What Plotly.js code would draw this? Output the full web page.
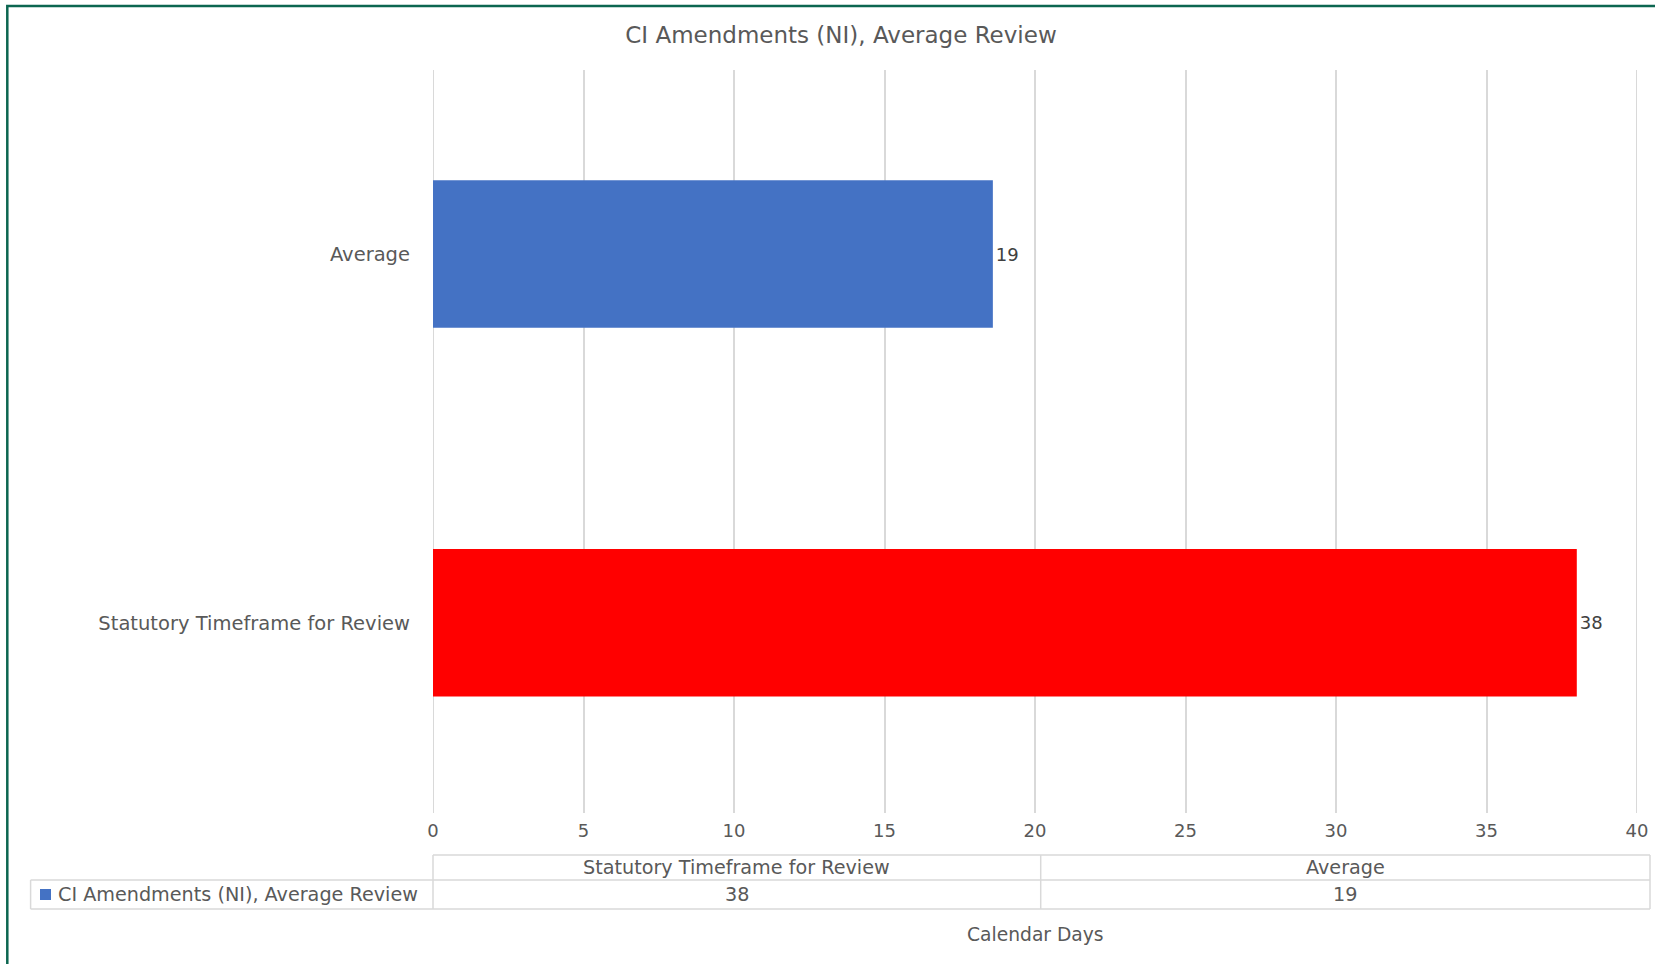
<!DOCTYPE html>
<html>
<head>
<meta charset="utf-8">
<script src="https://cdn.plot.ly/plotly-3.0.1.min.js"></script>
<style>html,body{margin:0;padding:0;background:#fff;}#chart{width:1655px;height:964px;}</style>
</head>
<body>
<div id="chart"></div>
<script>
// ---- data ----
const categories = ["Statutory Timeframe for Review", "Average"];
const values = [38, 18.6];
const barColors = ["#FF0000", "#4472C4"];
const seriesName = "CI Amendments (NI), Average Review";
const chartTitle = "CI Amendments (NI), Average Review";
const xAxisTitle = "Calendar Days";
const xTickVals = [0, 5, 10, 15, 20, 25, 30, 35, 40];

// ---- geometry (pixels) ----
const W = 1655, H = 964;
const L = 433, R = 18, T = 70, B = 151;
const pw = W - L - R, ph = H - T - B;
const px = x => (x - L) / pw;          // pixel x -> paper x
const py = y => (H - B - y) / ph;      // pixel y -> paper y

const textColor = "#595959";
const lineColor = "#d9d9d9";
const font = "'DejaVu Sans', Verdana, sans-serif";

const trace = {
  type: "bar",
  orientation: "h",
  y: categories,
  x: values,
  name: seriesName,
  marker: { color: barColors },
  text: values.map(v => Math.round(v).toString()),
  textposition: "outside",
  textfont: { family: font, size: 18, color: "#404040" },
  cliponaxis: false,
  hoverinfo: "x+y",
  showlegend: false
};

const shapes = [];
// gridlines at the axis ends (Plotly skips them at the range edges)
[xTickVals[0], xTickVals[xTickVals.length - 1]].forEach(v => shapes.push({
  type: "line", xref: "x", yref: "paper", x0: v, x1: v, y0: 0, y1: 1, layer: "below",
  line: { color: lineColor, width: 2 } }));

// data table under the axis
const tLeft = px(30.6), tMid = px(1040.7), tRight = px(1650), tZero = 0;
const r0 = py(855), r1 = py(880), r2 = py(909);
const ln = (x0, y0, x1, y1) => shapes.push({ type: "line", xref: "paper", yref: "paper", x0, y0, x1, y1, line: { color: lineColor, width: 1.5 } });
ln(tZero, r0, tRight, r0);
ln(tLeft, r1, tRight, r1);
ln(tLeft, r2, tRight, r2);
ln(tLeft, r1, tLeft, r2);
ln(tZero, r0, tZero, r2);
ln(tMid, r0, tMid, r2);
ln(tRight, r0, tRight, r2);
// legend key square
shapes.push({ type: "rect", xref: "paper", yref: "paper", x0: px(40), x1: px(51), y0: py(900), y1: py(889), fillcolor: "#4472C4", line: { width: 0 } });
// outer green frame (left and top)
shapes.push({ type: "path", xref: "paper", yref: "paper",
  path: `M ${px(7.3)},${py(980)} L ${px(7.3)},${py(6)} L ${px(1680)},${py(6)}`,
  line: { color: "#0c6650", width: 2.5 } });

const tableFont = { family: font, size: 19.2, color: textColor };
const colCenters = [(tZero + tMid) / 2, (tMid + tRight) / 2];
const annotations = [];
categories.forEach((c, i) => {
  annotations.push({ xref: "paper", yref: "paper", x: colCenters[i], y: (r0 + r1) / 2, text: c, showarrow: false,
    font: tableFont, xanchor: "center", yanchor: "middle" });
  annotations.push({ xref: "paper", yref: "paper", x: colCenters[i], y: (r1 + r2) / 2, text: String(Math.round(values[i])), showarrow: false,
    font: tableFont, xanchor: "center", yanchor: "middle" });
});
annotations.push({ xref: "paper", yref: "paper", x: px(56), y: (r1 + r2) / 2, text: seriesName, showarrow: false,
  font: tableFont, xanchor: "left", yanchor: "middle" });
annotations.push({ xref: "paper", yref: "paper", x: 0.5, y: py(934), text: xAxisTitle, showarrow: false,
  font: { family: font, size: 18.7, color: textColor }, xanchor: "center", yanchor: "middle" });

const layout = {
  width: W, height: H,
  margin: { l: L, r: R, t: T, b: B, pad: 0 },
  paper_bgcolor: "#ffffff",
  plot_bgcolor: "#ffffff",
  title: { text: chartTitle, font: { family: font, size: 23, color: textColor }, x: 841 / W, xanchor: "center", xref: "container", y: 1 - 35 / H, yanchor: "middle" },
  bargap: 0.6,
  xaxis: {
    range: [0, 40],
    tickvals: xTickVals,
    showgrid: true, gridcolor: lineColor, gridwidth: 2,
    zeroline: false, showline: false, ticks: "",
    tickfont: { family: font, size: 18, color: textColor },
    ticklabelstandoff: 5,
    fixedrange: true
  },
  yaxis: {
    categoryorder: "array", categoryarray: categories,
    range: [-0.516, 1.499],
    showgrid: false, zeroline: false, showline: false, ticks: "",
    tickfont: { family: font, size: 19.5, color: textColor },
    ticklabelstandoff: 22,
    automargin: false,
    fixedrange: true
  },
  shapes, annotations,
  showlegend: false
};

Plotly.newPlot("chart", [trace], layout, { displayModeBar: false, staticPlot: true });
</script>
</body>
</html>
